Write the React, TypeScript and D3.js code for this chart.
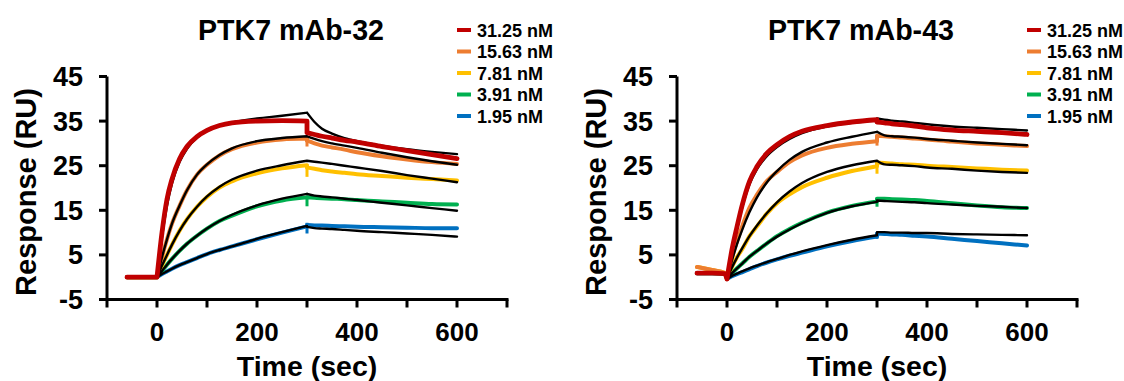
import * as d3 from 'd3';

const T_BASE = [-60, -30, -5, 0];
const T_ASSOC = [0, 10, 20, 30, 45, 60, 80, 100, 125, 150, 200, 250, 300];
const T_DISS = [300, 315, 330, 350, 375, 400, 450, 500, 550, 600];

const CONCS = ['31.25 nM', '15.63 nM', '7.81 nM', '3.91 nM', '1.95 nM'];
const COLORS = ['#C00000', '#ED7D31', '#FFC000', '#00B050', '#0070C0'];

const X_TICKS = [-100, 0, 100, 200, 300, 400, 500, 600, 700];
const X_LABELS = [0, 200, 400, 600];
const Y_TICKS = [-5, 5, 15, 25, 35, 45];

// ---- PTK7 mAb-32 ----
const M32_BASE = [
  [0, 0, 0, 0], [0, 0, 0, 0], [0, 0, 0, 0], [0, 0, 0, 0], [0, 0, 0, 0],
];
const M32_DATA_ASSOC = [
  [0, 10, 17.5, 22, 26.5, 29.3, 31.5, 32.9, 34, 34.6, 35, 35.1, 35],
  [0, 4.5, 8.5, 12, 16, 19.5, 23, 25.2, 27.3, 28.7, 30.2, 30.9, 31.1],
  [0, 2.6, 5, 7.3, 10.4, 13, 15.8, 18, 20.1, 21.5, 23.3, 24.4, 25.1],
  [0, 1.4, 2.8, 4.1, 5.9, 7.5, 9.3, 10.9, 12.6, 13.8, 15.9, 17.2, 17.9],
  [0, 0.7, 1.3, 1.9, 2.7, 3.4, 4.3, 5.2, 6.1, 6.9, 8.5, 10, 11.4],
];
const M32_DATA_DISS = [
  [32.4, 32, 31.6, 31.2, 30.7, 30.3, 29.3, 28.4, 27.5, 26.6],
  [30.6, 30, 29.5, 29.1, 28.6, 28, 27.1, 26.4, 25.8, 25.4],
  [24.6, 24.3, 24, 23.7, 23.4, 23.1, 22.7, 22.3, 22, 21.7],
  [17.9, 17.8, 17.7, 17.6, 17.5, 17.3, 17, 16.7, 16.4, 16.3],
  [11.7, 11.6, 11.6, 11.5, 11.4, 11.3, 11.2, 11.1, 11, 11],
];
const M32_FIT_ASSOC = [
  [0, 9, 16, 21, 25.8, 28.8, 31.3, 32.8, 34, 34.7, 35.6, 36.2, 36.9],
  [0, 4.5, 8.5, 12, 16, 19.5, 23, 25.3, 27.4, 28.9, 30.5, 31.2, 31.6],
  [0, 2.6, 5, 7.3, 10.4, 13, 15.8, 18.1, 20.3, 21.9, 23.9, 25.1, 26.1],
  [0, 1.4, 2.8, 4.1, 5.9, 7.5, 9.3, 10.9, 12.6, 14, 16.1, 17.6, 18.7],
  [0, 0.7, 1.3, 1.9, 2.7, 3.4, 4.3, 5.2, 6.1, 6.9, 8.6, 10.1, 11.5],
];
const M32_FIT_DISS = [
  [36.9, 34.8, 33.3, 32.2, 31.2, 30.5, 29.5, 28.7, 28.1, 27.6],
  [31.6, 31, 30.5, 30, 29.5, 29, 27.9, 26.9, 26, 25.2],
  [26.1, 25.9, 25.7, 25.4, 25, 24.6, 23.8, 22.9, 22.1, 21.3],
  [18.7, 18.3, 18.1, 17.9, 17.6, 17.3, 16.7, 16.1, 15.5, 14.9],
  [11.3, 11, 10.9, 10.8, 10.6, 10.4, 10.1, 9.8, 9.5, 9.1],
];
const M32_SPIKE = [null, [29.3, 31.1], [22.5, 25.3], [15.9, 18.3], [9.8, 12.2]];

// ---- PTK7 mAb-43 ----
const M43_BASE = [
  [0.9, 0.9, 0.8, -0.4], [2.3, 1.6, 1, -0.4], [2.3, 1.6, 1, -0.4], [0.9, 0.9, 0.8, -0.4], [0.9, 0.9, 0.8, -0.4],
];
const M43_DATA_ASSOC = [
  [-0.4, 6.2, 11.3, 16, 21.5, 24.8, 27.8, 29.7, 31.5, 32.7, 34, 34.8, 35.3],
  [-0.4, 4.3, 8, 11.3, 15.6, 18.5, 21.6, 23.6, 25.8, 27.3, 29, 29.9, 30.5],
  [-0.4, 2.3, 4.5, 6.2, 9.2, 11.4, 14.3, 16.6, 18.6, 20.2, 22.3, 23.8, 24.9],
  [-0.4, 0.9, 2, 3, 4.6, 5.9, 7.6, 9.2, 10.8, 12.2, 14.5, 16, 17],
  [-0.4, 0.2, 0.7, 1.1, 1.8, 2.5, 3.3, 4, 4.8, 5.5, 6.9, 8.1, 9.1],
];
const M43_DATA_DISS = [
  [34.8, 34.6, 34.4, 34.2, 33.9, 33.5, 33, 32.7, 32.4, 32],
  [31.7, 31.6, 31.5, 31.3, 31.1, 30.9, 30.4, 30, 29.7, 29.4],
  [25.7, 25.6, 25.5, 25.3, 25.2, 25, 24.7, 24.4, 24.1, 23.9],
  [17.6, 17.6, 17.5, 17.4, 17.3, 17.1, 16.6, 16.1, 15.7, 15.5],
  [9.8, 9.7, 9.6, 9.5, 9.3, 9.1, 8.6, 8.1, 7.6, 7.1],
];
const M43_FIT_ASSOC = [
  [-0.4, 6, 11, 15.5, 20.8, 24.2, 27.2, 29.2, 31, 32.3, 33.8, 34.6, 35.1],
  [-0.4, 3.8, 7.4, 10.5, 14.6, 17.9, 21.3, 23.8, 26.3, 28.1, 30.2, 31.5, 32.6],
  [-0.4, 2.2, 4.4, 6.4, 9.2, 11.6, 14.4, 16.8, 19.2, 21.1, 23.6, 25.1, 26.1],
  [-0.4, 0.9, 2, 3, 4.6, 5.9, 7.6, 9.1, 10.7, 12.1, 14.4, 15.9, 16.9],
  [-0.4, 0.3, 0.8, 1.3, 2, 2.6, 3.4, 4.1, 5, 5.8, 7.2, 8.4, 9.4],
];
const M43_FIT_DISS = [
  [35.6, 35.3, 35.1, 34.9, 34.6, 34.3, 33.8, 33.5, 33.2, 32.9],
  [32.6, 31.8, 31.6, 31.5, 31.3, 31, 30.6, 30.2, 29.9, 29.6],
  [26.1, 25.3, 25.2, 25.1, 24.9, 24.6, 24.3, 23.9, 23.6, 23.4],
  [17.2, 17.1, 17, 16.9, 16.8, 16.6, 16.3, 16, 15.8, 15.5],
  [10.1, 10.1, 10, 10, 9.9, 9.9, 9.7, 9.6, 9.5, 9.4],
];
const M43_SPIKE = [null, [29.5, 31.8], [23.2, 25.4], [15.8, 17.8], [8.6, 9.8]];

const FONT = '"Liberation Sans", Arial, sans-serif';

type Pt = [number, number];

function Panel(props: any) {
  const { ox, title, base, dataAssoc, dataDiss, fitAssoc, fitDiss, spikes } = props;
  const x = d3.scaleLinear().domain([-100, 700]).range([ox + 107, ox + 507]);
  const y = d3.scaleLinear().domain([-5, 45]).range([299.5, 76.5]);
  const line = d3.line<Pt>()
    .x(d => x(d[0]))
    .y(d => y(d[1]))
    .curve(d3.curveMonotoneX);
  const seg = d3.line<Pt>().x(d => x(d[0])).y(d => y(d[1]));

  const pts = (ts: number[], vs: number[]): Pt[] => ts.map((t, j) => [t, vs[j]] as Pt);

  // association, 300 s step and dissociation drawn as joined sub-paths
  const trace = (a: number[], d: number[], b?: number[]) => {
    const last = a[a.length - 1];
    return [
      b ? line(pts(T_BASE, b)) : '',
      line(pts(T_ASSOC, a)),
      seg([[300, last], [300, d[0]]]),
      line(pts(T_DISS, d)),
    ].join('');
  };

  const order = [4, 3, 2, 1];
  const x0 = x(-100);
  const yBot = y(-5);
  const midX = (x(-100) + x(700)) / 2;

  return (
    <g>
      {order.map(i => (
        <path key={'d' + i} d={trace(dataAssoc[i], dataDiss[i], base[i])} fill="none" stroke={COLORS[i]}
          strokeWidth={4} strokeLinejoin="round" strokeLinecap="round" />
      ))}
      {order.map(i => spikes[i] && (
        <line key={'s' + i} x1={x(300)} x2={x(300)} y1={y(spikes[i][0])} y2={y(spikes[i][1])} stroke={COLORS[i]} strokeWidth={3} />
      ))}
      {order.map(i => (
        <path key={'f' + i} d={trace(fitAssoc[i], fitDiss[i])} fill="none" stroke="#000" strokeWidth={2.4}
          strokeLinejoin="round" strokeLinecap="round" />
      ))}
      <path d={trace(fitAssoc[0], fitDiss[0])} fill="none" stroke="#000" strokeWidth={2.4} strokeLinejoin="round" strokeLinecap="round" />
      <path d={trace(dataAssoc[0], dataDiss[0], base[0])} fill="none" stroke={COLORS[0]} strokeWidth={4.8}
        strokeLinejoin="round" strokeLinecap="round" />

      {/* axes */}
      <line x1={x0} x2={x0} y1={y(45)} y2={yBot + 1.5} stroke="#000" strokeWidth={3} />
      <line x1={x0 - 8} x2={x(700) + 1.5} y1={yBot} y2={yBot} stroke="#000" strokeWidth={3} />
      {Y_TICKS.map(v => (
        <g key={'y' + v}>
          <line x1={x0 - 8} x2={x0} y1={y(v)} y2={y(v)} stroke="#000" strokeWidth={3} />
          <text x={x0 - 24} y={y(v) + 9.5} textAnchor="end" fontSize={27} fontWeight={700} fontFamily={FONT}>{v}</text>
        </g>
      ))}
      {X_TICKS.map(t => (
        <line key={'x' + t} x1={x(t)} x2={x(t)} y1={yBot} y2={yBot + 8} stroke="#000" strokeWidth={3} />
      ))}
      {X_LABELS.map(t => (
        <text key={'xl' + t} x={x(t)} y={341} textAnchor="middle" fontSize={26} fontWeight={700} fontFamily={FONT}>{t}</text>
      ))}

      <text x={midX} y={376} textAnchor="middle" fontSize={28.5} fontWeight={700} fontFamily={FONT}>Time (sec)</text>
      <text transform={`translate(${x0 - 71},${192}) rotate(-90)`} textAnchor="middle" fontSize={29} fontWeight={700} fontFamily={FONT}>Response (RU)</text>
      <text x={midX - 16} y={40} textAnchor="middle" fontSize={28.6} fontWeight={700} fontFamily={FONT}>{title}</text>

      {/* legend */}
      {CONCS.map((c, i) => {
        const ly = 30 + i * 21.5;
        const lx = ox + 457;
        return (
          <g key={c}>
            <line x1={lx} x2={lx + 14} y1={ly} y2={ly} stroke={COLORS[i]} strokeWidth={4} />
            <text x={lx + 20} y={ly + 6.5} fontSize={18} fontWeight={700} fontFamily={FONT}>{c}</text>
          </g>
        );
      })}
    </g>
  );
}

export default function App() {
  return (
    <svg width={1124} height={381} style={{ position: 'absolute', left: 0, top: 0, background: '#fff' }}>
      <Panel ox={0} title="PTK7 mAb-32" base={M32_BASE} dataAssoc={M32_DATA_ASSOC} dataDiss={M32_DATA_DISS}
        fitAssoc={M32_FIT_ASSOC} fitDiss={M32_FIT_DISS} spikes={M32_SPIKE} />
      <Panel ox={570} title="PTK7 mAb-43" base={M43_BASE} dataAssoc={M43_DATA_ASSOC} dataDiss={M43_DATA_DISS}
        fitAssoc={M43_FIT_ASSOC} fitDiss={M43_FIT_DISS} spikes={M43_SPIKE} />
    </svg>
  );
}
